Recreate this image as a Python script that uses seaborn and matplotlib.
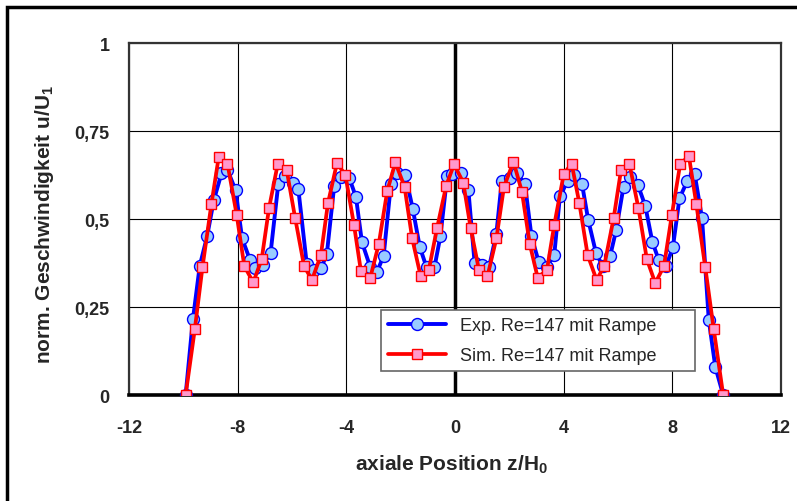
import numpy as np
import pandas as pd
import seaborn as sns
import matplotlib.pyplot as plt
from matplotlib.patches import Rectangle

# Exp. Re=147 mit Rampe
exp_z = [-9.92, -9.65, -9.40, -9.13, -8.88, -8.60, -8.38, -8.08, -7.84, -7.55,
         -7.37, -7.06, -6.79, -6.51, -6.26, -5.97, -5.77, -5.46, -5.21, -4.93,
         -4.72, -4.45, -4.20, -3.90, -3.65, -3.43, -3.12, -2.87, -2.63, -2.36,
         -2.13, -1.83, -1.56, -1.30, -1.05, -0.76, -0.54, -0.29, -0.10, 0.20,
         0.49, 0.72, 1.00, 1.25, 1.52, 1.72, 2.02, 2.27, 2.57, 2.81,
         3.08, 3.37, 3.65, 3.86, 4.14, 4.39, 4.67, 4.90, 5.19, 5.44,
         5.71, 5.93, 6.20, 6.44, 6.73, 7.00, 7.26, 7.50, 7.77, 8.02,
         8.26, 8.54, 8.82, 9.09, 9.34, 9.58, 9.87]
exp_u = [0.0, 0.216, 0.367, 0.451, 0.554, 0.630, 0.640, 0.582, 0.445, 0.384,
         0.360, 0.371, 0.405, 0.599, 0.623, 0.604, 0.585, 0.372, 0.355, 0.360,
         0.402, 0.595, 0.621, 0.618, 0.563, 0.435, 0.363, 0.351, 0.396, 0.601,
         0.632, 0.625, 0.530, 0.421, 0.363, 0.363, 0.452, 0.623, 0.628, 0.630,
         0.582, 0.374, 0.369, 0.363, 0.459, 0.609, 0.618, 0.630, 0.601, 0.452,
         0.378, 0.364, 0.398, 0.566, 0.607, 0.626, 0.601, 0.498, 0.403, 0.366,
         0.396, 0.469, 0.592, 0.621, 0.597, 0.538, 0.436, 0.383, 0.367, 0.421,
         0.559, 0.607, 0.628, 0.503, 0.213, 0.080, 0.0]

# Sim. Re=147 mit Rampe
sim_z = [-9.92, -9.58, -9.30, -8.97, -8.70, -8.38, -8.04, -7.76, -7.43, -7.12,
         -6.85, -6.53, -6.20, -5.89, -5.56, -5.27, -4.94, -4.68, -4.35, -4.04,
         -3.72, -3.47, -3.12, -2.81, -2.50, -2.20, -1.86, -1.58, -1.27, -0.97,
         -0.66, -0.33, -0.04, 0.30, 0.57, 0.88, 1.19, 1.52, 1.80, 2.15,
         2.46, 2.75, 3.04, 3.38, 3.65, 4.00, 4.29, 4.57, 4.88, 5.21,
         5.49, 5.84, 6.11, 6.42, 6.75, 7.06, 7.37, 7.69, 7.98, 8.29,
         8.61, 8.88, 9.21, 9.52, 9.87]
sim_u = [0.0, 0.188, 0.363, 0.543, 0.677, 0.658, 0.512, 0.367, 0.320, 0.386,
         0.531, 0.656, 0.640, 0.504, 0.367, 0.327, 0.398, 0.545, 0.659, 0.626,
         0.483, 0.354, 0.334, 0.429, 0.579, 0.661, 0.592, 0.445, 0.339, 0.355,
         0.476, 0.594, 0.656, 0.604, 0.476, 0.355, 0.337, 0.445, 0.592, 0.663,
         0.578, 0.429, 0.334, 0.355, 0.483, 0.628, 0.658, 0.547, 0.398, 0.327,
         0.367, 0.504, 0.640, 0.656, 0.531, 0.386, 0.318, 0.367, 0.512, 0.658,
         0.678, 0.543, 0.363, 0.188, 0.0]

x_ticks = [-12, -8, -4, 0, 4, 8, 12]
y_ticks = [0, 0.25, 0.5, 0.75, 1]
y_ticklabels = ['0', '0,25', '0,5', '0,75', '1']

exp_df = pd.DataFrame({'z': exp_z, 'u': exp_u})
sim_df = pd.DataFrame({'z': sim_z, 'u': sim_u})

sns.set_style('white')
plt.rcParams['font.family'] = ['Liberation Sans', 'DejaVu Sans']
plt.rcParams['mathtext.default'] = 'regular'
plt.rcParams['axes.unicode_minus'] = False

fig = plt.figure(figsize=(7.97, 5.02), dpi=100)
ax = fig.add_axes([0.162, 0.211, 0.818, 0.701])

sns.lineplot(data=exp_df, x='z', y='u', ax=ax, sort=False, estimator=None,
             color='#0000FF', linewidth=2.8, marker='o', markersize=8.6,
             markerfacecolor='#99CCFF', markeredgecolor='#0000FF',
             markeredgewidth=1.0, label='Exp. Re=147 mit Rampe', zorder=3)
sns.lineplot(data=sim_df, x='z', y='u', ax=ax, sort=False, estimator=None,
             color='#FF0000', linewidth=2.7, marker='s', markersize=7.0,
             markerfacecolor='#FF99CC', markeredgecolor='#FF0000',
             markeredgewidth=1.0, label='Sim. Re=147 mit Rampe', zorder=4)

ax.set_xlim(-12, 12)
ax.set_ylim(0, 1)
ax.set_xticks(x_ticks)
ax.set_yticks(y_ticks)
ax.set_yticklabels(y_ticklabels)

ax.grid(True, color='black', linewidth=0.8)
ax.set_axisbelow(True)
ax.axvline(0, color='black', linewidth=2.5, zorder=2)

for side in ['left', 'right', 'top']:
    ax.spines[side].set_color('#333333')
    ax.spines[side].set_linewidth(1.6)
ax.spines['bottom'].set_color('black')
ax.spines['bottom'].set_linewidth(2.6)

ax.tick_params(axis='x', direction='out', length=5, width=2, pad=12,
               labelsize=13, color='black')
ax.tick_params(axis='y', length=0, pad=14, labelsize=13)
for lbl in ax.get_xticklabels() + ax.get_yticklabels():
    lbl.set_fontweight('bold')

ax.set_xlabel('axiale Position z/H$_0$', fontsize=15, fontweight='bold')
ax.set_ylabel('norm. Geschwindigkeit u/U$_1$', fontsize=15, fontweight='bold')
ax.xaxis.set_label_coords(0.494, -0.165)
ax.yaxis.set_label_coords(-0.112, 0.487)

leg = ax.legend(loc='lower left', bbox_to_anchor=(0.386, 0.068, 0.482, 0.18),
                mode='expand', fontsize=13, frameon=True, fancybox=False,
                borderaxespad=0, handlelength=3.2, labelspacing=0.7,
                numpoints=1)
leg.get_frame().set_edgecolor('#666666')
leg.get_frame().set_linewidth(1.2)
leg.get_frame().set_alpha(1)

# black frame round the whole chart (runs off the right and bottom edge)
fig.patches.append(Rectangle((0.009, -0.1), 1.5, 1.084,
                             transform=fig.transFigure, fill=False,
                             edgecolor='black', linewidth=2.5))

fig.savefig('out.png', dpi=100)
